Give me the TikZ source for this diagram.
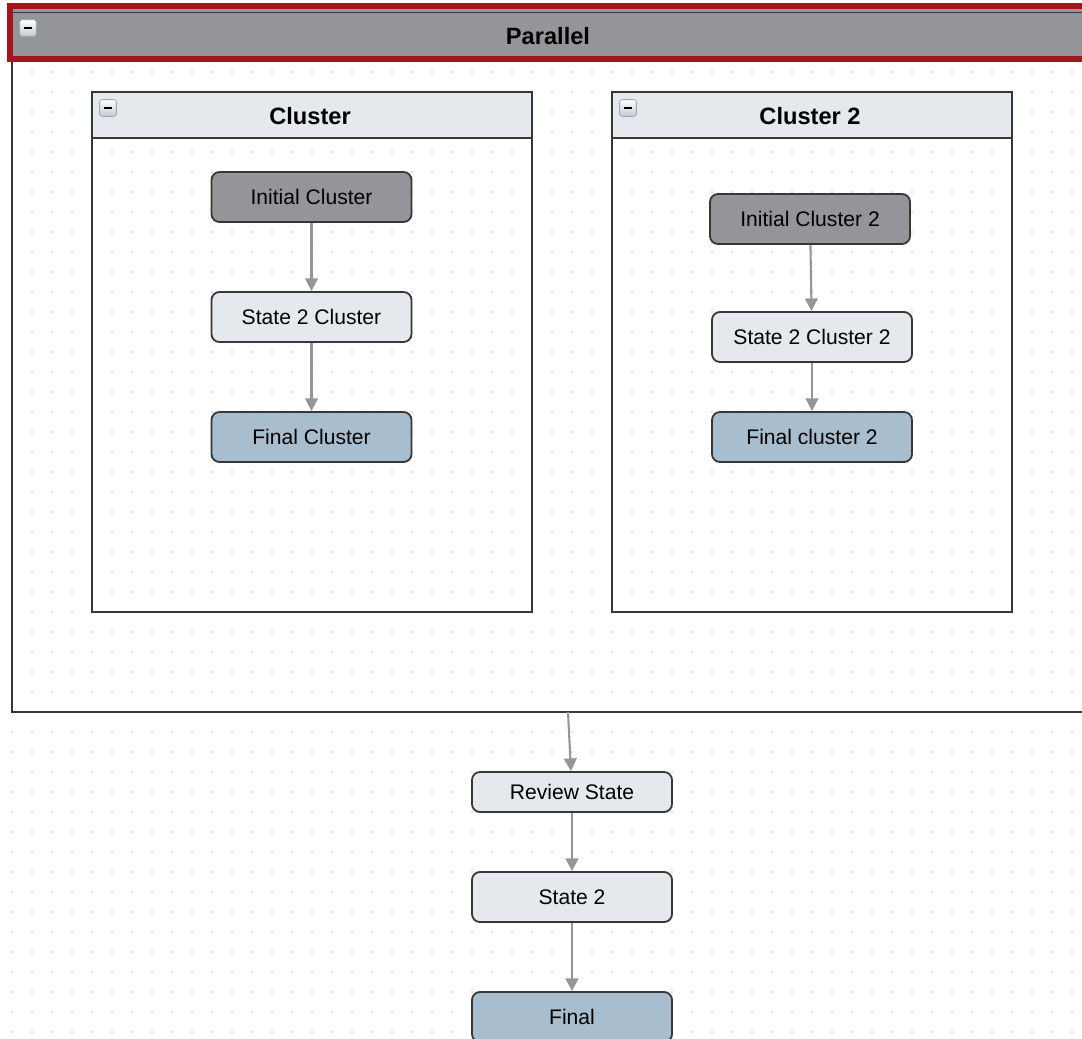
\documentclass[tikz,border=0pt]{standalone}
\usepackage{fontspec}
\setmainfont{Liberation Sans}
\usepackage{xcolor}
\usetikzlibrary{arrows.meta}
\definecolor{hdrgray}{RGB}{147,149,152}
\definecolor{paleblue}{RGB}{229,233,237}
\definecolor{finalblue}{RGB}{168,189,205}
\definecolor{selred}{RGB}{163,22,31}
\definecolor{edgedark}{RGB}{55,55,55}
\definecolor{arrgray}{RGB}{150,150,150}
\definecolor{dotgray}{RGB}{208,208,208}
\definecolor{iconedge}{RGB}{150,170,190}

\begin{document}
\begin{tikzpicture}[
  x=0.025cm, y=-0.025cm,
  st/.style={draw=edgedark, line width=1.3pt, rounded corners=0.2cm,
    minimum width=5cm, minimum height=1.25cm, inner sep=0pt,
    font=\fontsize{15}{18}\selectfont, fill=paleblue},
  ttl/.style={font=\fontsize{16.8}{20}\selectfont\bfseries, inner sep=0pt},
  frame/.style={draw=edgedark, line width=1.3pt, inner sep=0pt},
  collapse/.style={draw=iconedge, line width=0.6pt, rounded corners=2pt,
    minimum size=0.42cm, inner sep=0pt, top color=white, bottom color=paleblue!70!gray,
    path picture={\draw[line width=1.6pt, black]
      ([xshift=2.8pt]path picture bounding box.west) --
      ([xshift=-2.8pt]path picture bounding box.east);}},
  arr/.style={-{Triangle[length=9pt,width=9pt]}, line width=1.5pt, draw=arrgray, arrgray}
]
\clip (0,0) rectangle (1082,1038);
\useasboundingbox (0,0) rectangle (1082,1038);

% grid
\foreach \gx in {12,32,...,1072}
  \foreach \gy in {12,32,...,1032}
    \fill[dotgray] (\gx,\gy) circle[radius=0.75pt];

% parallel container
\node[frame, minimum width=29.7cm, minimum height=16.425cm] (par) at (606,383.5) {};
\draw[draw=selred, line width=4.3pt, fill=hdrgray] (10,6) rectangle (1120,59);
\draw[edgedark, line width=0.8pt] (12,12.5) -- (1110,12.5);
\node[ttl] (partitle) at (548,36) {Parallel};
\node[collapse] (parmin) at (28,28) {};

% clusters
\node[frame, minimum width=11cm, minimum height=13cm] (clu) at (312,352) {};
\draw[frame, fill=paleblue] (92,92) rectangle (532,138);
\node[ttl] (clutitle) at (310,116) {Cluster};
\node[collapse] (clumin) at (108,108) {};

\node[frame, minimum width=10cm, minimum height=13cm] (clutwo) at (812,352) {};
\draw[frame, fill=paleblue] (612,92) rectangle (1012,138);
\node[ttl] (clutwotitle) at (810,116) {Cluster 2};
\node[collapse] (clutwomin) at (628,108) {};

% states
\node[st, fill=hdrgray] (ini) at (311.5,197) {Initial Cluster};
\node[st] (sttwo) at (311.5,317) {State 2 Cluster};
\node[st, fill=finalblue] (fin) at (311.5,437) {Final Cluster};

\node[st, fill=hdrgray] (initwo) at (810,219) {Initial Cluster 2};
\node[st] (sttwotwo) at (812,337) {State 2 Cluster 2};
\node[st, fill=finalblue] (fintwo) at (812,437) {Final cluster 2};

\node[st, minimum height=1cm] (review) at (572,792) {Review State};
\node[st] (state) at (572,897) {State 2};
\node[st, fill=finalblue] (final) at (572,1017) {Final};

\coordinate (parout) at (568,712);

\draw[arr] (ini) -- (sttwo);
\draw[arr] (sttwo) -- (fin);
\draw[arr] (initwo) -- (sttwotwo);
\draw[arr] (sttwotwo) -- (fintwo);
\draw[arr] (parout) -- (review);
\draw[arr] (review) -- (state);
\draw[arr] (state) -- (final);

\end{tikzpicture}
\end{document}
